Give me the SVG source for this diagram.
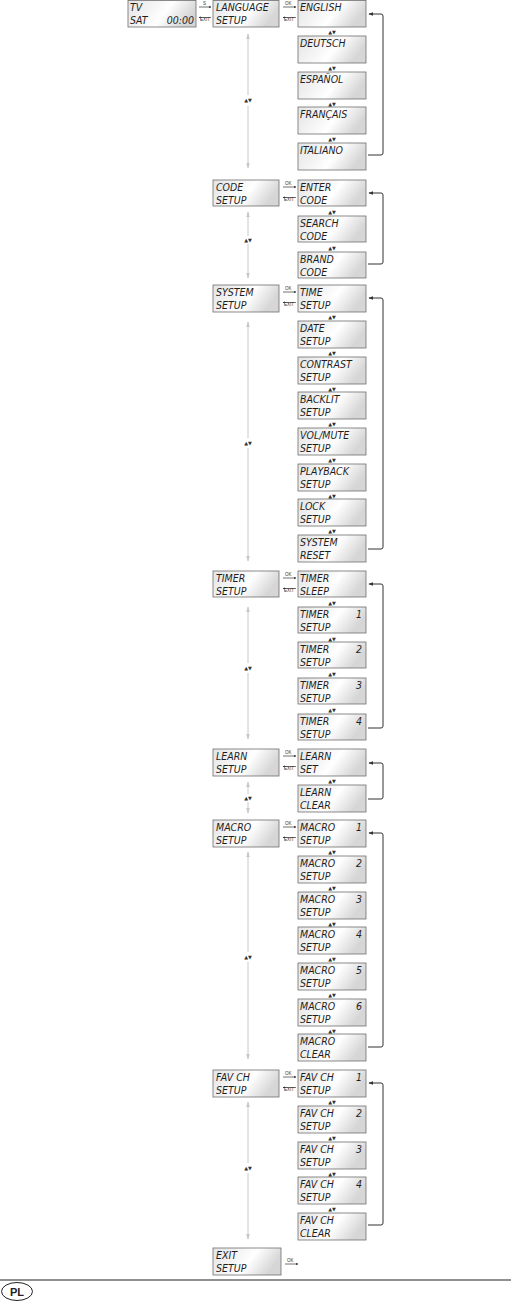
<svg xmlns="http://www.w3.org/2000/svg" width="511" height="1304" viewBox="0 0 511 1304">
<defs>
<linearGradient id="lcd" x1="0" y1="0" x2="1" y2="0.3">
<stop offset="0" stop-color="#e4e4e4"/>
<stop offset="0.45" stop-color="#f7f7f7"/>
<stop offset="0.62" stop-color="#ffffff"/>
<stop offset="1" stop-color="#d6d6d6"/>
</linearGradient>
<marker id="ah" viewBox="0 0 8 8" refX="7" refY="4" markerWidth="5" markerHeight="5" orient="auto">
<path d="M0,1 L8,4 L0,7 z" fill="#333"/>
</marker>
<marker id="ahs" viewBox="0 0 8 8" refX="7" refY="4" markerWidth="4" markerHeight="4" orient="auto">
<path d="M0,1 L8,4 L0,7 z" fill="#333"/>
</marker>
<marker id="ahg" viewBox="0 0 8 8" refX="7" refY="4" markerWidth="6" markerHeight="6" orient="auto-start-reverse">
<path d="M0,1.5 L8,4 L0,6.5 z" fill="#c8c8c8"/>
</marker>
</defs>
<style>
.b{fill:url(#lcd);stroke:#6e6e6e;stroke-width:0.8}
.t{font-family:"DejaVu Sans Condensed","DejaVu Sans",sans-serif;font-style:italic;font-size:10.5px;fill:#1e1e1e}
.s{font-family:"DejaVu Sans",sans-serif;font-size:5px;fill:#333}
.k{font-family:"Liberation Sans",sans-serif;font-size:4.5px;fill:#333}
.loop{fill:none;stroke:#333;stroke-width:1}
.v{stroke:#c8c8c8;stroke-width:1;fill:none}
.sa{stroke:#333;stroke-width:0.7;fill:none}
</style>

<g id="tv"><rect class="b" x="128" y="0.5" width="68" height="26.5"/><text class="t" x="130" y="10.5">TV</text><text class="t" x="194" y="24" text-anchor="end">00:00</text><text class="t" x="130" y="24">SAT</text></g>

<g id="connectors">
<text class="k" x="203" y="5">S</text>
<line class="sa" x1="199" y1="7" x2="211" y2="7" marker-end="url(#ahs)"/>
<text class="k" x="200" y="21">EXIT</text>
<line class="sa" x1="211" y1="17.5" x2="199" y2="17.5" marker-end="url(#ahs)"/>
</g>

<g id="language"><rect class="b" x="213" y="0.5" width="66" height="26.5"/><text class="t" x="216" y="10.5">LANGUAGE</text><text class="t" x="216" y="24">SETUP</text></g>
<g id="english"><rect class="b" x="298" y="0.5" width="68" height="26.5"/><text class="t" x="300" y="10.5">ENGLISH</text></g>
<g id="deutsch"><rect class="b" x="298" y="36" width="68" height="27"/><text class="t" x="300" y="46.5">DEUTSCH</text></g>
<g id="espanol"><rect class="b" x="298" y="72" width="68" height="27"/><text class="t" x="300" y="82.5">ESPAÑOL</text></g>
<g id="francais"><rect class="b" x="298" y="107" width="68" height="27"/><text class="t" x="300" y="117.5">FRANÇAIS</text></g>
<g id="italiano"><rect class="b" x="298" y="143" width="68" height="27"/><text class="t" x="300" y="153.5">ITALIANO</text></g>

<g id="code"><rect class="b" x="213" y="180" width="66" height="26"/><text class="t" x="216" y="190.5">CODE</text><text class="t" x="216" y="203.5">SETUP</text></g>
<g id="enter"><rect class="b" x="298" y="180" width="68" height="26"/><text class="t" x="300" y="190.5">ENTER</text><text class="t" x="300" y="203.5">CODE</text></g>
<g id="search"><rect class="b" x="298" y="216" width="68" height="26"/><text class="t" x="300" y="226.5">SEARCH</text><text class="t" x="300" y="239.5">CODE</text></g>
<g id="brand"><rect class="b" x="298" y="252" width="68" height="26"/><text class="t" x="300" y="262.5">BRAND</text><text class="t" x="300" y="275.5">CODE</text></g>

<g id="system"><rect class="b" x="213" y="285" width="66" height="27"/><text class="t" x="216" y="295.5">SYSTEM</text><text class="t" x="216" y="309">SETUP</text></g>
<g id="time"><rect class="b" x="298" y="285" width="68" height="27"/><text class="t" x="300" y="295.5">TIME</text><text class="t" x="300" y="309">SETUP</text></g>
<g id="date"><rect class="b" x="298" y="321" width="68" height="27"/><text class="t" x="300" y="331.5">DATE</text><text class="t" x="300" y="345">SETUP</text></g>
<g id="contrast"><rect class="b" x="298" y="357" width="68" height="27"/><text class="t" x="300" y="367.5">CONTRAST</text><text class="t" x="300" y="381">SETUP</text></g>
<g id="backlit"><rect class="b" x="298" y="392" width="68" height="27"/><text class="t" x="300" y="402.5">BACKLIT</text><text class="t" x="300" y="416">SETUP</text></g>
<g id="volmute"><rect class="b" x="298" y="428" width="68" height="27"/><text class="t" x="300" y="438.5">VOL/MUTE</text><text class="t" x="300" y="452">SETUP</text></g>
<g id="playback"><rect class="b" x="298" y="464" width="68" height="27"/><text class="t" x="300" y="474.5">PLAYBACK</text><text class="t" x="300" y="488">SETUP</text></g>
<g id="lock"><rect class="b" x="298" y="499" width="68" height="27"/><text class="t" x="300" y="509.5">LOCK</text><text class="t" x="300" y="523">SETUP</text></g>
<g id="sysreset"><rect class="b" x="298" y="535" width="68" height="27"/><text class="t" x="300" y="545.5">SYSTEM</text><text class="t" x="300" y="559">RESET</text></g>

<g id="timer"><rect class="b" x="213" y="571" width="66" height="26"/><text class="t" x="216" y="581.5">TIMER</text><text class="t" x="216" y="594.5">SETUP</text></g>
<g id="timersleep"><rect class="b" x="298" y="571" width="68" height="26"/><text class="t" x="300" y="581.5">TIMER</text><text class="t" x="300" y="594.5">SLEEP</text></g>
<g id="timer1"><rect class="b" x="298" y="607" width="68" height="26"/><text class="t" x="300" y="617.5">TIMER</text><text class="t" x="362" y="617.5" text-anchor="end">1</text><text class="t" x="300" y="630.5">SETUP</text></g>
<g id="timer2"><rect class="b" x="298" y="642" width="68" height="26"/><text class="t" x="300" y="652.5">TIMER</text><text class="t" x="362" y="652.5" text-anchor="end">2</text><text class="t" x="300" y="665.5">SETUP</text></g>
<g id="timer3"><rect class="b" x="298" y="678" width="68" height="26"/><text class="t" x="300" y="688.5">TIMER</text><text class="t" x="362" y="688.5" text-anchor="end">3</text><text class="t" x="300" y="701.5">SETUP</text></g>
<g id="timer4"><rect class="b" x="298" y="714" width="68" height="26"/><text class="t" x="300" y="724.5">TIMER</text><text class="t" x="362" y="724.5" text-anchor="end">4</text><text class="t" x="300" y="737.5">SETUP</text></g>

<g id="learn"><rect class="b" x="213" y="749" width="66" height="27"/><text class="t" x="216" y="759.5">LEARN</text><text class="t" x="216" y="773">SETUP</text></g>
<g id="learnset"><rect class="b" x="298" y="749" width="68" height="27"/><text class="t" x="300" y="759.5">LEARN</text><text class="t" x="300" y="773">SET</text></g>
<g id="learnclear"><rect class="b" x="298" y="785" width="68" height="27"/><text class="t" x="300" y="795.5">LEARN</text><text class="t" x="300" y="809">CLEAR</text></g>

<g id="macro"><rect class="b" x="213" y="820" width="66" height="27"/><text class="t" x="216" y="830.5">MACRO</text><text class="t" x="216" y="844">SETUP</text></g>
<g id="macro1"><rect class="b" x="298" y="820" width="68" height="27"/><text class="t" x="300" y="830.5">MACRO</text><text class="t" x="362" y="830.5" text-anchor="end">1</text><text class="t" x="300" y="844">SETUP</text></g>
<g id="macro2"><rect class="b" x="298" y="856" width="68" height="27"/><text class="t" x="300" y="866.5">MACRO</text><text class="t" x="362" y="866.5" text-anchor="end">2</text><text class="t" x="300" y="880">SETUP</text></g>
<g id="macro3"><rect class="b" x="298" y="892" width="68" height="27"/><text class="t" x="300" y="902.5">MACRO</text><text class="t" x="362" y="902.5" text-anchor="end">3</text><text class="t" x="300" y="916">SETUP</text></g>
<g id="macro4"><rect class="b" x="298" y="927" width="68" height="27"/><text class="t" x="300" y="937.5">MACRO</text><text class="t" x="362" y="937.5" text-anchor="end">4</text><text class="t" x="300" y="951">SETUP</text></g>
<g id="macro5"><rect class="b" x="298" y="963" width="68" height="27"/><text class="t" x="300" y="973.5">MACRO</text><text class="t" x="362" y="973.5" text-anchor="end">5</text><text class="t" x="300" y="987">SETUP</text></g>
<g id="macro6"><rect class="b" x="298" y="999" width="68" height="27"/><text class="t" x="300" y="1009.5">MACRO</text><text class="t" x="362" y="1009.5" text-anchor="end">6</text><text class="t" x="300" y="1023">SETUP</text></g>
<g id="macroclear"><rect class="b" x="298" y="1034" width="68" height="27"/><text class="t" x="300" y="1044.5">MACRO</text><text class="t" x="300" y="1058">CLEAR</text></g>

<g id="favch"><rect class="b" x="213" y="1070" width="66" height="27"/><text class="t" x="216" y="1080.5">FAV CH</text><text class="t" x="216" y="1094">SETUP</text></g>
<g id="fav1"><rect class="b" x="298" y="1070" width="68" height="27"/><text class="t" x="300" y="1080.5">FAV CH</text><text class="t" x="362" y="1080.5" text-anchor="end">1</text><text class="t" x="300" y="1094">SETUP</text></g>
<g id="fav2"><rect class="b" x="298" y="1106" width="68" height="27"/><text class="t" x="300" y="1116.5">FAV CH</text><text class="t" x="362" y="1116.5" text-anchor="end">2</text><text class="t" x="300" y="1130">SETUP</text></g>
<g id="fav3"><rect class="b" x="298" y="1142" width="68" height="27"/><text class="t" x="300" y="1152.5">FAV CH</text><text class="t" x="362" y="1152.5" text-anchor="end">3</text><text class="t" x="300" y="1166">SETUP</text></g>
<g id="fav4"><rect class="b" x="298" y="1177" width="68" height="27"/><text class="t" x="300" y="1187.5">FAV CH</text><text class="t" x="362" y="1187.5" text-anchor="end">4</text><text class="t" x="300" y="1201">SETUP</text></g>
<g id="favclear"><rect class="b" x="298" y="1213" width="68" height="27"/><text class="t" x="300" y="1223.5">FAV CH</text><text class="t" x="300" y="1237">CLEAR</text></g>

<g id="exit"><rect class="b" x="213" y="1248" width="68" height="27"/><text class="t" x="216" y="1258.5">EXIT</text><text class="t" x="216" y="1272">SETUP</text></g>

<g id="links">
<g id="okexit1"><text class="k" x="285" y="5">OK</text><line class="sa" x1="283" y1="7" x2="296" y2="7" marker-end="url(#ahs)"/><text class="k" x="284" y="21">EXIT</text><line class="sa" x1="296" y1="17.5" x2="283" y2="17.5" marker-end="url(#ahs)"/></g>
<g id="okexit2"><text class="k" x="285" y="185">OK</text><line class="sa" x1="283" y1="187" x2="296" y2="187" marker-end="url(#ahs)"/><text class="k" x="284" y="201">EXIT</text><line class="sa" x1="296" y1="197.5" x2="283" y2="197.5" marker-end="url(#ahs)"/></g>
<g id="okexit3"><text class="k" x="285" y="290">OK</text><line class="sa" x1="283" y1="292" x2="296" y2="292" marker-end="url(#ahs)"/><text class="k" x="284" y="306">EXIT</text><line class="sa" x1="296" y1="302.5" x2="283" y2="302.5" marker-end="url(#ahs)"/></g>
<g id="okexit4"><text class="k" x="285" y="576">OK</text><line class="sa" x1="283" y1="578" x2="296" y2="578" marker-end="url(#ahs)"/><text class="k" x="284" y="592">EXIT</text><line class="sa" x1="296" y1="588.5" x2="283" y2="588.5" marker-end="url(#ahs)"/></g>
<g id="okexit5"><text class="k" x="285" y="754">OK</text><line class="sa" x1="283" y1="756" x2="296" y2="756" marker-end="url(#ahs)"/><text class="k" x="284" y="770">EXIT</text><line class="sa" x1="296" y1="766.5" x2="283" y2="766.5" marker-end="url(#ahs)"/></g>
<g id="okexit6"><text class="k" x="285" y="825">OK</text><line class="sa" x1="283" y1="827" x2="296" y2="827" marker-end="url(#ahs)"/><text class="k" x="284" y="841">EXIT</text><line class="sa" x1="296" y1="837.5" x2="283" y2="837.5" marker-end="url(#ahs)"/></g>
<g id="okexit7"><text class="k" x="285" y="1075">OK</text><line class="sa" x1="283" y1="1077" x2="296" y2="1077" marker-end="url(#ahs)"/><text class="k" x="284" y="1091">EXIT</text><line class="sa" x1="296" y1="1087.5" x2="283" y2="1087.5" marker-end="url(#ahs)"/></g>
<g id="okexit8"><text class="k" x="287" y="1262">OK</text><line class="sa" x1="285" y1="1264" x2="298" y2="1264" marker-end="url(#ahs)"/></g>

<path class="loop" d="M368,155 H381 Q383,155 383,153 V16 Q383,14 381,14 H369" marker-end="url(#ah)"/>
<path class="loop" d="M368,264 H381 Q383,264 383,262 V195 Q383,193 381,193 H369" marker-end="url(#ah)"/>
<path class="loop" d="M368,549 H381 Q383,549 383,547 V300 Q383,298 381,298 H369" marker-end="url(#ah)"/>
<path class="loop" d="M368,728 H381 Q383,728 383,726 V586 Q383,584 381,584 H369" marker-end="url(#ah)"/>
<path class="loop" d="M368,799 H381 Q383,799 383,797 V765 Q383,763 381,763 H369" marker-end="url(#ah)"/>
<path class="loop" d="M368,1047 H381 Q383,1047 383,1045 V835 Q383,833 381,833 H369" marker-end="url(#ah)"/>
<path class="loop" d="M368,1225 H381 Q383,1225 383,1223 V1085 Q383,1083 381,1083 H369" marker-end="url(#ah)"/>

<path class="v" d="M248,95 V34" marker-end="url(#ahg)"/><path class="v" d="M248,106 V168" marker-end="url(#ahg)"/>
<text class="s" x="248" y="102" text-anchor="middle">▲▼</text>
<path class="v" d="M248,236 V212" marker-end="url(#ahg)"/><path class="v" d="M248,244 V278" marker-end="url(#ahg)"/>
<text class="s" x="248" y="242" text-anchor="middle">▲▼</text>
<path class="v" d="M248,438 V322" marker-end="url(#ahg)"/><path class="v" d="M248,448 V561" marker-end="url(#ahg)"/>
<text class="s" x="248" y="445" text-anchor="middle">▲▼</text>
<path class="v" d="M248,663 V607" marker-end="url(#ahg)"/><path class="v" d="M248,673 V739" marker-end="url(#ahg)"/>
<text class="s" x="248" y="670" text-anchor="middle">▲▼</text>
<path class="v" d="M248,794 V782" marker-end="url(#ahg)"/><path class="v" d="M248,802 V813" marker-end="url(#ahg)"/>
<text class="s" x="248" y="800" text-anchor="middle">▲▼</text>
<path class="v" d="M248,952 V852" marker-end="url(#ahg)"/><path class="v" d="M248,962 V1059" marker-end="url(#ahg)"/>
<text class="s" x="248" y="959" text-anchor="middle">▲▼</text>
<path class="v" d="M248,1163 V1102" marker-end="url(#ahg)"/><path class="v" d="M248,1173 V1239" marker-end="url(#ahg)"/>
<text class="s" x="248" y="1170" text-anchor="middle">▲▼</text>

<g class="s" text-anchor="middle">
<text x="332" y="34">▲▼</text><text x="332" y="70">▲▼</text><text x="332" y="105.5">▲▼</text><text x="332" y="141">▲▼</text>
<text x="332" y="214">▲▼</text><text x="332" y="250">▲▼</text>
<text x="332" y="319">▲▼</text><text x="332" y="355">▲▼</text><text x="332" y="390.5">▲▼</text><text x="332" y="426">▲▼</text><text x="332" y="462">▲▼</text><text x="332" y="497.5">▲▼</text><text x="332" y="533">▲▼</text>
<text x="332" y="605">▲▼</text><text x="332" y="640.5">▲▼</text><text x="332" y="676">▲▼</text><text x="332" y="712">▲▼</text>
<text x="332" y="783">▲▼</text>
<text x="332" y="854">▲▼</text><text x="332" y="890">▲▼</text><text x="332" y="925.5">▲▼</text><text x="332" y="961">▲▼</text><text x="332" y="997">▲▼</text><text x="332" y="1032.5">▲▼</text>
<text x="332" y="1104">▲▼</text><text x="332" y="1140">▲▼</text><text x="332" y="1175.5">▲▼</text><text x="332" y="1211">▲▼</text>
</g>
</g>

<g id="footer">
<line x1="0" y1="1280" x2="511" y2="1280" stroke="#222" stroke-width="1"/>
<ellipse cx="17" cy="1291.5" rx="15.5" ry="9" fill="none" stroke="#222" stroke-width="1"/>
<text x="17" y="1295.5" text-anchor="middle" font-family="'Liberation Sans',sans-serif" font-weight="bold" font-size="11" fill="#222">PL</text>
</g>
</svg>
